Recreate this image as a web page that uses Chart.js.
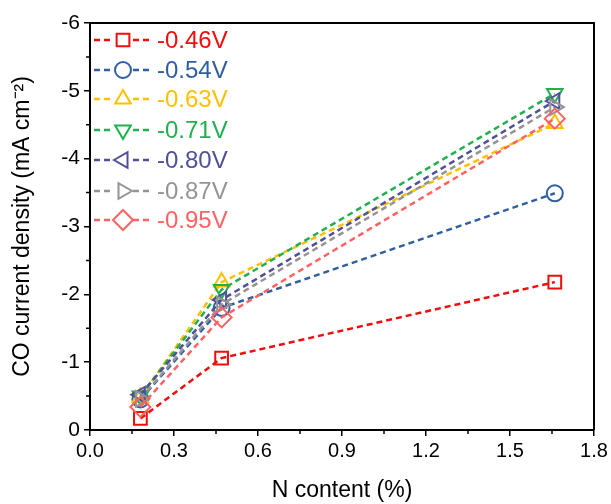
<!DOCTYPE html>
<html>
<head>
<meta charset="utf-8">
<script src="https://cdn.jsdelivr.net/npm/chart.js@4"></script>
<style>
html,body{margin:0;padding:0;background:#fff;}
canvas{display:block;}
</style>
</head>
<body>
<canvas id="c" width="611" height="504"></canvas>
<script>
const nContent = [0.18, 0.47, 1.66];
const labels = ['-0.46V', '-0.54V', '-0.63V', '-0.71V', '-0.80V', '-0.87V', '-0.95V'];
const s046 = [-0.17, -1.06, -2.18];
const s054 = [-0.45, -1.80, -3.49];
const s063 = [-0.48, -2.18, -4.52];
const s071 = [-0.50, -2.07, -4.96];
const s080 = [-0.52, -1.92, -4.85];
const s087 = [-0.46, -1.85, -4.76];
const s095 = [-0.34, -1.66, -4.59];
const xTicks = [0.0, 0.3, 0.6, 0.9, 1.2, 1.5, 1.8];
const yTicks = [0, -1, -2, -3, -4, -5, -6];

const series = [s046, s054, s063, s071, s080, s087, s095];
const colors = ['#f20d0d', '#2f5f9e', '#ffc000', '#22b04f', '#4f4f9a', '#949494', '#ff6262'];
const styles = ['rect', 'circle', 'triangle', 'triangle', 'triangle', 'triangle', 'rectRot'];
const rotations = [0, 0, 0, 180, 270, 90, 0];
const radii = [9, 8, 9, 9, 9, 9, 10];

const FONT = '"Liberation Sans", Arial, sans-serif';

const datasets = series.map((s, i) => ({
  label: labels[i],
  data: s.map((v, j) => ({x: nContent[j], y: v})),
  borderColor: colors[i],
  backgroundColor: 'rgba(255,255,255,0)',
  borderWidth: 2.5,
  borderDash: [6, 4],
  pointStyle: styles[i],
  pointRotation: rotations[i],
  pointRadius: radii[i],
  pointBorderWidth: 2,
  pointBorderColor: colors[i],
  pointBackgroundColor: 'rgba(255,255,255,0)',
  order: 7 - i,
  tension: 0
}));

const framePlugin = {
  id: 'frame',
  afterDatasetsDraw(chart) {
    const ctx = chart.ctx;
    const a = chart.chartArea;
    const xs = chart.scales.x, ys = chart.scales.y;
    ctx.save();
    ctx.setLineDash([]);
    ctx.strokeStyle = '#000';
    ctx.lineWidth = 2;
    ctx.beginPath();
    ctx.moveTo(a.left, a.top); ctx.lineTo(a.right, a.top); ctx.lineTo(a.right, a.bottom);
    ctx.stroke();
    // minor ticks
    ctx.lineWidth = 1.5;
    ctx.beginPath();
    for (let k = 0; k < xTicks.length - 1; k++) {
      const px = xs.getPixelForValue((xTicks[k] + xTicks[k + 1]) / 2);
      ctx.moveTo(px, a.bottom); ctx.lineTo(px, a.bottom + 4);
    }
    for (let k = 0; k < yTicks.length - 1; k++) {
      const py = ys.getPixelForValue((yTicks[k] + yTicks[k + 1]) / 2);
      ctx.moveTo(a.left, py); ctx.lineTo(a.left - 4, py);
    }
    ctx.stroke();
    // legend
    const lx0 = 94, lx1 = 150, mx = 123, tx = 157;
    const rowY = [40, 70, 99, 130, 160, 191, 220];
    ctx.font = '24px ' + FONT;
    ctx.textBaseline = 'middle';
    ctx.textAlign = 'left';
    chart.data.datasets.forEach((ds, i) => {
      const y = rowY[i];
      ctx.strokeStyle = ds.borderColor;
      ctx.lineWidth = 2.5;
      ctx.setLineDash([6, 4]);
      ctx.beginPath();
      ctx.moveTo(lx0, y); ctx.lineTo(mx - 10, y);
      ctx.moveTo(mx + 10, y); ctx.lineTo(lx1, y);
      ctx.stroke();
      ctx.setLineDash([]);
      ctx.lineWidth = 2;
      ctx.fillStyle = '#fff';
      Chart.helpers.drawPoint(ctx, {
        pointStyle: ds.pointStyle, rotation: ds.pointRotation,
        radius: ds.pointRadius, borderWidth: 2
      }, mx, y);
      ctx.fillStyle = ds.borderColor;
      ctx.fillText(ds.label, tx, y + 1);
    });
    ctx.restore();
  }
};

new Chart(document.getElementById('c'), {
  type: 'line',
  data: {datasets},
  options: {
    responsive: false,
    animation: false,
    layout: {padding: {top: 23, right: 17, left: 0, bottom: 0}},
    plugins: {legend: {display: false}, tooltip: {enabled: false}},
    scales: {
      x: {
        type: 'linear', min: 0, max: 1.8,
        afterBuildTicks(scale) { scale.ticks = xTicks.map(v => ({value: v})); },
        afterFit(scale) { scale.height = 74; },
        grid: {display: true, drawOnChartArea: false, drawTicks: true, tickLength: 6, color: '#000', lineWidth: 1.5},
        border: {display: true, color: '#000', width: 2},
        ticks: {color: '#000', font: {family: FONT, size: 20}, padding: 3, maxRotation: 0,
          callback: v => Number(v).toFixed(1)},
        title: {display: true, text: 'N content (%)', color: '#000', font: {family: FONT, size: 23}, padding: {top: 4, bottom: 0}}
      },
      y: {
        type: 'linear', min: -6, max: 0, reverse: true,
        afterBuildTicks(scale) { scale.ticks = yTicks.map(v => ({value: v})); },
        afterFit(scale) { scale.width = 90; },
        grid: {display: true, drawOnChartArea: false, drawTicks: true, tickLength: 6, color: '#000', lineWidth: 1.5},
        border: {display: true, color: '#000', width: 2},
        ticks: {color: '#000', font: {family: FONT, size: 21}, padding: 4,
          callback: v => String(v)},
        title: {display: true, text: 'CO current density (mA cm⁻²)', color: '#000', font: {family: FONT, size: 23}, padding: {top: 9, bottom: 6}}
      }
    }
  },
  plugins: [framePlugin]
});
</script>
</body>
</html>
